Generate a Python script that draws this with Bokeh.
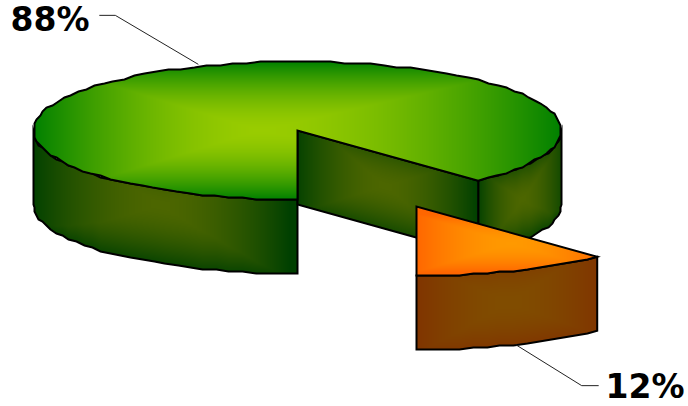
import math
import numpy as np
from bokeh.plotting import figure
from bokeh.models import Range1d
from bokeh.core.properties import value
from bokeh.embed import file_html
from bokeh.resources import INLINE

# data
labels = ["88%", "12%"]
shares = [88, 12]
centre_green = (0x99, 0xCC, 0x00)
edge_green = (0x00, 0x80, 0x00)
centre_orange = (0xFF, 0x99, 0x00)
edge_orange = (0xFF, 0x66, 0x00)

# layout (reference pixels)
W, H = 688, 406
CX, CY, RX, RY, DEPTH = 297.0, 130.0, 264.0, 69.0, 74.0
EXPLODE = (119.0, 76.0)
Q = 2.0
GAMMA = 1.7

p = figure(width=W, height=H, output_backend="svg", toolbar_location=None,
           x_range=Range1d(0, W), y_range=Range1d(0, H),
           min_border=0, outline_line_color=None, background_fill_color="white")
p.axis.visible = False
p.grid.visible = False


def Y(v):
    return H - np.asarray(v, dtype=float)


def rim(a0, a1, dx=0.0, dy=0.0, step=3.0):
    n = max(2, int(abs(a1 - a0) / step) + 1)
    ang = np.radians(np.linspace(a0, a1, n))
    xs = CX + RX * np.cos(ang)
    ys = CY - RY * np.sin(ang)
    xs[1:-1] = np.round(xs[1:-1] / Q) * Q
    ys[1:-1] = np.round((ys[1:-1] - CY + RY) / Q) * Q + CY - RY
    return xs + dx, ys + dy


def mask(px, py, x0, y0, w, h):
    X, Yg = np.meshgrid(np.arange(w) + x0 + .5, np.arange(h) + y0 + .5)
    inside = np.zeros(X.shape, dtype=bool)
    for i in range(len(px)):
        x1, y1, x2, y2 = px[i], py[i], px[(i + 1) % len(px)], py[(i + 1) % len(px)]
        if y1 == y2:
            continue
        inside ^= ((y1 > Yg) != (y2 > Yg)) & (X < x1 + (Yg - y1) * (x2 - x1) / (y2 - y1))
    return X, Yg, inside


def face(px, py, tfun, c0, c1, scale=1.0):
    px, py = np.asarray(px), np.asarray(py)
    x0, y0 = int(px.min()) - 1, int(py.min()) - 1
    w, h = int(px.max()) + 2 - x0, int(py.max()) + 2 - y0
    X, Yg, m = mask(px, py, x0, y0, w, h)
    t = np.clip(tfun(X, Yg), 0, 1) ** GAMMA
    rgba = np.zeros((h, w, 4), dtype=np.uint8)
    for k in range(3):
        rgba[..., k] = np.round((c0[k] + (c1[k] - c0[k]) * t) * scale)
    rgba[..., 3] = m * 255
    p.image_rgba(image=[rgba[::-1].view(np.uint32).reshape(h, w)], x=x0, y=H - (y0 + h), dw=w, dh=h)
    p.patch(px, Y(py), fill_alpha=0, line_color="black", line_width=2, line_join="miter")


def wall(xs, ys, c0, c1, gx, ax, mid, span):
    """vertical band: top edge xs, ys and the same edge DEPTH lower."""
    order = np.argsort(xs)
    tx, ty = np.asarray(xs)[order], np.asarray(ys)[order]

    def tf(X, Yg):
        s = (Yg - np.interp(X, tx, ty)) / DEPTH
        return np.maximum(np.abs(X - gx) / ax, np.abs(s - mid) / span)
    px = np.concatenate([xs, xs[::-1]])
    py = np.concatenate([ys, ys[::-1] + DEPTH])
    face(px, py, tf, c0, c1, 0.5)


sweep = [360.0 * s / sum(shares) for s in shares]
a_small0 = -90.0
a_small1 = a_small0 + sweep[1]

# large slice: walls
lx, ly = rim(180, 270)
wall(lx, ly, centre_green, edge_green, 160, 130, 0.22, 0.85)
rx_, ry_ = rim(a_small1, 0)
wall(rx_, ry_, centre_green, edge_green, 522, 46, 0.45, 0.62)
ex, ey = rim(a_small1, a_small1, step=999)
ix = np.array([CX, ex[0]])
iy = np.array([CY, ey[0]])
wall(ix, iy, centre_green, edge_green, 385, 92, 0.42, 0.72)

# large slice: top
tx, ty = rim(a_small1, a_small0 + 360)
tx = np.append(tx, CX)
ty = np.append(ty, CY)
face(tx, ty,
     lambda X, Yg: np.maximum(np.where(X < 260, (260 - X) / 227, (X - 260) / 301), np.abs(Yg - CY) / RY),
     centre_green, edge_green)

# small slice
dx, dy = EXPLODE
sx, sy = rim(a_small0, a_small1, dx, dy)
wall(sx, sy, centre_orange, edge_orange, CX + dx + 92, 95, 0.42, 0.66)
ox = np.append(sx, CX + dx)
oy = np.append(sy, CY + dy)
face(ox, oy,
     lambda X, Yg: np.maximum(np.abs(X - (CX + dx + 95)) / 96, np.abs(Yg - (CY + dy + 37)) / 29),
     centre_orange, edge_orange)

# leader lines and labels
mid_big = math.radians(a_small1 + sweep[0] / 2)
bx, by = CX + RX * math.cos(mid_big), CY - RY * math.sin(mid_big)
p.line([bx - 2, bx - 85, bx - 101], Y([by - 2, by - 51, by - 51]), line_color="#222222", line_width=1)
mid_small = math.radians(a_small0 + sweep[1] / 2)
qx, qy = CX + dx + RX * math.cos(mid_small), CY + dy + DEPTH - RY * math.sin(mid_small)
p.line([qx + 2, qx + 68, qx + 85], Y([qy, qy + 41, qy + 41]), line_color="#222222", line_width=1)

p.text(x=[10], y=Y([19]), text=[labels[0]], text_font=value("DejaVu Sans"), text_font_style="bold",
       text_font_size="33px", text_color="black", text_align="left", text_baseline="middle")
p.text(x=[605], y=Y([386]), text=[labels[1]], text_font=value("DejaVu Sans"), text_font_style="bold",
       text_font_size="33px", text_color="black", text_align="left", text_baseline="middle")

open("out.html", "w").write(file_html(p, INLINE))
